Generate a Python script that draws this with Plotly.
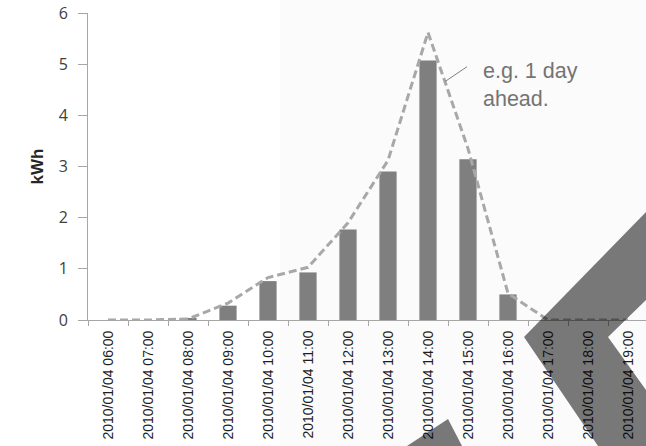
import plotly.graph_objects as go

# Hourly slots and measured / forecast energy
hours = [
    "2010/01/04 06:00", "2010/01/04 07:00", "2010/01/04 08:00", "2010/01/04 09:00",
    "2010/01/04 10:00", "2010/01/04 11:00", "2010/01/04 12:00", "2010/01/04 13:00",
    "2010/01/04 14:00", "2010/01/04 15:00", "2010/01/04 16:00", "2010/01/04 17:00",
    "2010/01/04 18:00", "2010/01/04 19:00",
]
measured_kwh = [0, 0, 0.04, 0.28, 0.76, 0.93, 1.77, 2.90, 5.07, 3.14, 0.50, 0, 0, 0]
forecast_kwh = [0, 0, 0.02, 0.33, 0.83, 1.03, 1.90, 3.12, 5.62, 3.35, 0.52, 0, 0, 0]

W, H = 646, 446
L, R, T, B = 88, 0, 13, 126
PW, PH = W - L - R, H - T - B


def px(x, y):
    """Pixel position -> paper coordinates of the plot area."""
    return (x - L) / PW, (H - B - y) / PH


def path(points):
    pts = [px(x, y) for x, y in points]
    return "M " + " L ".join(f"{a:.4f},{b:.4f}" for a, b in pts) + " Z"


axis_grey = "#a6a6a6"

fig = go.Figure()
fig.add_trace(go.Bar(
    x=hours, y=measured_kwh,
    marker=dict(color="#7f7f7f", line=dict(width=0)),
    showlegend=False,
))
fig.add_trace(go.Scatter(
    x=hours, y=forecast_kwh, mode="lines",
    line=dict(color="#a8a8a8", width=3, dash="8px,4px"),
    showlegend=False,
))

shapes = [
    # faint shaded backdrop on the right part of the slide
    dict(type="rect", xref="paper", yref="paper",
         x0=px(280, 0)[0], x1=px(W, 0)[0], y0=px(0, H)[1], y1=px(0, 0)[1],
         fillcolor="#fbfbfb", line=dict(width=0), layer="below"),
    # leader line for the forecast note
    dict(type="line", xref="x", yref="y", x0=8.425, y0=4.66, x1=8.975, y1=4.95,
         line=dict(color="#808080", width=1)),
    # translucent chevron decoration
    dict(type="path", xref="paper", yref="paper",
         path=path([(524, 337), (646, 212), (646, 300), (608, 337),
                    (646, 390), (646, 446), (598, 446)]),
         fillcolor="rgba(0,0,0,0.52)", line=dict(width=0), layer="above"),
    dict(type="path", xref="paper", yref="paper",
         path=path([(407, 446), (448, 419), (462, 446)]),
         fillcolor="rgba(0,0,0,0.52)", line=dict(width=0), layer="above"),
]

fig.update_layout(
    width=W, height=H,
    margin=dict(l=L, r=R, t=T, b=B, pad=0),
    paper_bgcolor="white", plot_bgcolor="rgba(0,0,0,0)",
    bargap=0.57,
    shapes=shapes,
    annotations=[dict(
        x=9.33, y=4.6, xref="x", yref="y", xanchor="left", yanchor="middle",
        text="e.g. 1 day<br>ahead.", showarrow=False, align="left",
        font=dict(family="Liberation Sans, Arial", size=21.5, color="#747474"),
    )],
    xaxis=dict(
        type="category", range=[-0.5, 13.45],
        showline=True, linecolor=axis_grey, linewidth=1,
        ticks="outside", tickson="boundaries", ticklen=5, tickcolor=axis_grey,
        tickangle=-90, showgrid=False, ticklabelstandoff=4,
        tickfont=dict(family="Liberation Sans, Arial", size=14, color="#1e1e1e"),
    ),
    yaxis=dict(
        range=[0, 6], dtick=1, showline=True, linecolor=axis_grey, linewidth=1,
        ticks="outside", ticklen=9, tickcolor=axis_grey,
        showgrid=False, zeroline=False, ticklabelstandoff=7,
        tickfont=dict(family="Open Sans", size=16, color="#404040"),
        title=dict(text="<b>kWh</b>", standoff=10,
                   font=dict(family="Liberation Sans, Arial", size=17, color="#262626")),
    ),
)

fig.write_html("out.html")
